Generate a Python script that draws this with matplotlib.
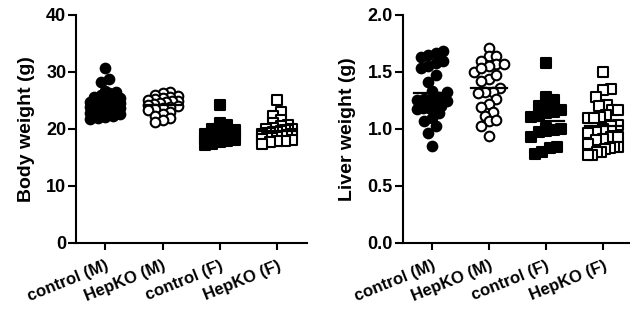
import matplotlib as mpl
import matplotlib.pyplot as plt
import numpy as np

mpl.rcParams["font.family"] = ["Liberation Sans", "DejaVu Sans"]
mpl.rcParams["font.weight"] = "bold"

groups = ["control (M)", "HepKO (M)", "control (F)", "HepKO (F)"]

body_ctrl_m = [30.7, 28.8, 28.2, 26.6, 26.4, 26.2, 25.9, 25.6, 25.4, 25.2,
               25.0, 24.9, 24.7, 24.5, 24.3, 24.2, 24.0, 23.8, 23.6, 23.4,
               23.2, 23.0, 22.8, 22.5, 22.3, 22.1, 21.9, 21.7]
body_hepko_m = [26.4, 26.2, 26.0, 25.8, 25.6, 25.4, 25.2, 25.1, 24.9, 24.8,
                24.6, 24.5, 24.3, 24.2, 24.0, 23.8, 23.6, 23.4, 23.2, 22.9,
                22.6, 22.2, 21.8, 21.5, 21.2]
body_ctrl_f = [24.1, 21.0, 20.6, 20.3, 20.0, 19.8, 19.6, 19.5, 19.3, 19.1,
               19.0, 18.8, 18.6, 18.4, 18.2, 18.0, 17.8, 17.6, 17.4, 17.2]
body_hepko_f = [25.0, 22.9, 22.3, 21.6, 21.0, 20.7, 20.4, 20.2, 20.0, 19.9,
                19.8, 19.7, 19.6, 19.5, 19.4, 19.3, 19.2, 19.1, 19.0, 18.9,
                18.7, 18.6, 18.4, 18.3, 18.2, 18.0, 17.9, 17.8, 17.6, 17.3]

liver_ctrl_m = [1.68, 1.66, 1.65, 1.63, 1.59, 1.58, 1.55, 1.53, 1.47, 1.41,
                1.33, 1.32, 1.28, 1.27, 1.26, 1.25, 1.24, 1.19, 1.18, 1.18,
                1.17, 1.20, 1.14, 1.09, 1.07, 1.02, 0.96, 0.85]
liver_hepko_m = [1.71, 1.64, 1.64, 1.59, 1.57, 1.55, 1.57, 1.50, 1.53, 1.44,
                 1.42, 1.36, 1.32, 1.32, 1.31, 1.26, 1.22, 1.19, 1.15, 1.11,
                 1.07, 1.08, 1.02, 0.94, 1.47]
liver_ctrl_f = [1.58, 1.28, 1.25, 1.23, 1.20, 1.15, 1.16, 1.11, 1.10, 1.01,
                1.00, 0.97, 0.99, 0.98, 0.93, 0.84, 0.80, 0.83, 0.78, 1.14]
liver_hepko_f = [1.50, 1.35, 1.34, 1.28, 1.21, 1.20, 1.16, 1.16, 1.12, 1.10,
                 1.09, 1.09, 1.03, 1.02, 1.00, 0.97, 0.96, 0.93, 0.93, 0.91,
                 0.90, 0.87, 0.84, 0.84, 0.83, 0.82, 0.80, 0.80, 0.77, 0.77]


def swarm(vals, row_h, step, max_half):
    # simple row-based scatter: values within one row height share a row
    vals = np.asarray(vals)
    order = np.argsort(vals)
    offs = np.zeros(len(vals))
    i = 0
    while i < len(order):
        start = vals[order[i]]
        j = i
        while j < len(order) and vals[order[j]] - start < row_h:
            j += 1
        idx = order[i:j]
        n = len(idx)
        sp = step if n <= 1 else min(step, 2 * max_half / (n - 1))
        offs[idx] = (np.arange(n) - (n - 1) / 2) * sp
        i = j
    return offs


styles = [
    dict(marker="o", facecolor="black"),
    dict(marker="o", facecolor="white"),
    dict(marker="s", facecolor="black"),
    dict(marker="s", facecolor="white"),
]

fig = plt.figure(figsize=(6.3, 3.21), dpi=100)
ax1 = fig.add_axes([0.1206, 0.2439, 0.3667, 0.7103])
ax2 = fig.add_axes([0.6392, 0.2439, 0.3608, 0.7103])

panels = [
    (ax1, [body_ctrl_m, body_hepko_m, body_ctrl_f, body_hepko_f],
     "Body weight (g)", (0, 40), [0, 10, 20, 30, 40], "{:.0f}", (-0.51, 3.52), 5.0),
    (ax2, [liver_ctrl_m, liver_hepko_m, liver_ctrl_f, liver_hepko_f],
     "Liver weight (g)", (0, 2.0), [0, 0.5, 1.0, 1.5, 2.0], "{:.1f}", (-0.51, 3.47), 8.5),
]

for ax, data, ylabel, ylim, yticks, fmt, xlim, row_px in panels:
    ax.set_xlim(*xlim)
    ax.set_ylim(*ylim)
    ppx = 57.2
    ppy = 228.0 / (ylim[1] - ylim[0])
    for k, vals in enumerate(data):
        offs = swarm(vals, row_px / ppy, 7.5 / ppx, 15 / ppx)
        st = styles[k]
        ax.scatter(k + offs, vals, s=48, marker=st["marker"],
                   facecolors=st["facecolor"], edgecolors="black",
                   linewidths=1.5, zorder=3, clip_on=False)
        m = np.mean(vals)
        ax.plot([k - 0.32, k + 0.32], [m, m], color="black", lw=1.6, zorder=4)
    ax.set_yticks(yticks)
    ax.set_yticklabels([fmt.format(t) for t in yticks], fontsize=13, fontweight="bold")
    ax.set_xticks(range(len(groups)))
    ax.set_xticklabels(groups, rotation=22, ha="right", rotation_mode="anchor",
                       fontsize=12, fontweight="bold")
    ax.set_ylabel(ylabel, fontsize=14, fontweight="bold", labelpad=8)
    for side in ["top", "right"]:
        ax.spines[side].set_visible(False)
    for side in ["left", "bottom"]:
        ax.spines[side].set_linewidth(1.5)
    ax.tick_params(axis="y", length=6, width=1.5, pad=1)
    ax.tick_params(axis="x", length=5, width=1.5, pad=6)

fig.savefig("out.png", dpi=100)
